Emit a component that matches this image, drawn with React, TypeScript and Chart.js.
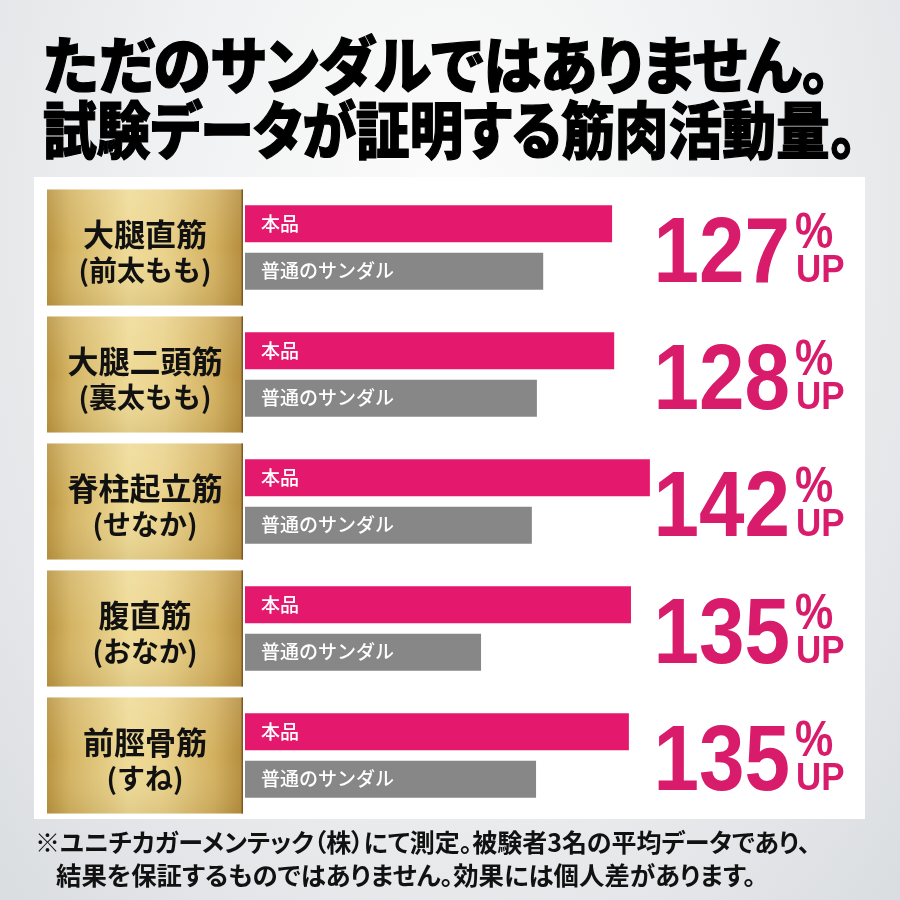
import React, { useEffect, useRef } from "react";
import { Chart, registerables } from "chart.js";

Chart.register(...registerables);

const titleLines = ["ただのサンダルではありません。", "試験データが証明する筋肉活動量。"];
const titleWidths = [787, 814];
const categories = ["大腿直筋", "大腿二頭筋", "脊柱起立筋", "腹直筋", "前脛骨筋"];
const subLabels = ["(前太もも)", "(裏太もも)", "(せなか)", "(おなか)", "(すね)"];
const seriesNames = ["本品", "普通のサンダル"];
const productValues = [87.4, 87.9, 96.4, 91.9, 91.4];
const normalValues = [71.0, 69.5, 68.3, 56.2, 69.3];
const upPercents = ["127", "128", "142", "135", "135"];
const footnoteLines = [
  "※ユニチカガーメンテック（株）にて測定。被験者3名の平均データであり、",
  "結果を保証するものではありません。効果には個人差があります。",
];
const footnoteWidths = [775, 700];

const PINK = "#e4196e";
const GRAY = "#878787";
const TEXT_PINK = "#d81b6b";
const CJK = '"Noto Sans CJK JP", "Noto Sans", sans-serif';
const LAT = '"Liberation Sans", Arial, sans-serif';

const decorPlugin = {
  id: "decor",
  beforeDatasetsDraw(chart: any) {
    const { ctx, chartArea } = chart;
    const y = chart.scales.y;
    const boxRight = chartArea.left - 2;
    const boxLeft = chartArea.left - 198;
    const boxH = 116;
    categories.forEach((cat, i) => {
      const yc = y.getPixelForValue(i);
      const top = yc - boxH / 2;
      ctx.save();
      const g = ctx.createLinearGradient(boxLeft, 0, boxRight, 0);
      g.addColorStop(0, "#b8933f");
      g.addColorStop(0.12, "#d4b463");
      g.addColorStop(0.42, "#efdb97");
      g.addColorStop(0.6, "#ead28b");
      g.addColorStop(0.85, "#d3b160");
      g.addColorStop(1, "#b48c3c");
      ctx.fillStyle = g;
      ctx.fillRect(boxLeft, top, boxRight - boxLeft, boxH);
      const gv = ctx.createLinearGradient(0, top, 0, top + boxH);
      gv.addColorStop(0, "rgba(255,255,255,0.12)");
      gv.addColorStop(0.5, "rgba(255,255,255,0)");
      gv.addColorStop(1, "rgba(120,90,30,0.12)");
      ctx.fillStyle = gv;
      ctx.fillRect(boxLeft, top, boxRight - boxLeft, boxH);
      ctx.fillStyle = "#7a5a22";
      ctx.fillRect(boxRight - 1.5, top, 1.5, boxH);
      const cx = (boxLeft + boxRight) / 2;
      ctx.fillStyle = "#111";
      ctx.textAlign = "center";
      ctx.textBaseline = "middle";
      ctx.font = `bold 31px ${CJK}`;
      ctx.fillText(cat, cx, yc - 13);
      ctx.font = `bold 28px ${CJK}`;
      ctx.fillText(subLabels[i], cx, yc + 23);
      ctx.restore();
    });
  },
  afterDatasetsDraw(chart: any) {
    const { ctx, chartArea } = chart;
    const y = chart.scales.y;
    ctx.save();
    chart.data.datasets.forEach((ds: any, di: number) => {
      const meta = chart.getDatasetMeta(di);
      meta.data.forEach((el: any) => {
        ctx.fillStyle = "#ffffff";
        ctx.font = `500 19px ${CJK}`;
        ctx.textAlign = "left";
        ctx.textBaseline = "middle";
        ctx.fillText(ds.label, el.base + 16, el.y);
      });
    });
    const numRight = chartArea.right + 125;
    upPercents.forEach((p, i) => {
      const yc = y.getPixelForValue(i);
      ctx.fillStyle = TEXT_PINK;
      ctx.textBaseline = "alphabetic";
      ctx.save();
      ctx.translate(numRight, yc + 34.5);
      ctx.scale(0.88, 1);
      ctx.textAlign = "right";
      ctx.font = `bold 93px ${LAT}`;
      ctx.fillText(p, 0, 0);
      ctx.restore();
      ctx.save();
      ctx.translate(numRight + 5, yc + 0.5);
      ctx.scale(0.86, 1);
      ctx.textAlign = "left";
      ctx.font = `bold 50px ${LAT}`;
      ctx.fillText("%", 0, 0);
      ctx.restore();
      ctx.save();
      ctx.translate(numRight + 6, yc + 34.5);
      ctx.scale(0.92, 1);
      ctx.textAlign = "left";
      ctx.font = `bold 38px ${LAT}`;
      ctx.fillText("UP", 0, 0);
      ctx.restore();
    });
    ctx.restore();
  },
};

export default function App() {
  const ref = useRef<HTMLCanvasElement>(null);
  const rootRef = useRef<HTMLDivElement>(null);
  useEffect(() => {
    document.body.style.margin = "0";
    const root = rootRef.current;
    if (root) {
      root.querySelectorAll<HTMLElement>("[data-target]").forEach((el) => {
        const target = Number(el.dataset.target);
        const w = el.scrollWidth;
        if (w > 0) {
          el.style.transform = `scaleX(${target / w})`;
        }
      });
    }
    const chart = new Chart(ref.current as HTMLCanvasElement, {
      type: "bar",
      data: {
        labels: categories,
        datasets: [
          { label: seriesNames[0], data: productValues, backgroundColor: PINK },
          { label: seriesNames[1], data: normalValues, backgroundColor: GRAY },
        ],
      },
      options: {
        indexAxis: "y",
        responsive: false,
        animation: false,
        events: [],
        layout: { padding: { left: 245, right: 235, top: 184, bottom: 81 } },
        datasets: { bar: { categoryPercentage: 0.748, barPercentage: 0.78 } },
        scales: {
          x: { min: 0, max: 100, display: false },
          y: { display: false },
        },
        plugins: { legend: { display: false }, tooltip: { enabled: false }, title: { display: false } },
      },
      plugins: [decorPlugin],
    } as any);
    return () => chart.destroy();
  }, []);

  return (
    <div
      ref={rootRef}
      style={{
        position: "relative",
        width: 900,
        height: 900,
        overflow: "hidden",
        background: "radial-gradient(ellipse at 50% 25%, #fcfcfc 0%, #f0f1f2 45%, #e3e5e8 80%, #dadde0 100%)",
      }}
    >
      {titleLines.map((t, i) => (
        <div
          key={i}
          data-target={titleWidths[i]}
          style={{
            position: "absolute",
            left: 43,
            top: 30 + i * 65,
            fontFamily: CJK,
            fontWeight: 900,
            fontSize: 62,
            lineHeight: "65px",
            whiteSpace: "nowrap",
            color: "#000",
            fontFeatureSettings: '"palt"',
            WebkitTextStroke: "1.2px #000",
            transformOrigin: "0 50%",
          }}
        >
          {t}
        </div>
      ))}
      <div style={{ position: "absolute", left: 34, top: 177, width: 831, height: 642, background: "#fff" }} />
      <canvas ref={ref} width={900} height={900} style={{ position: "absolute", left: 0, top: 0, width: 900, height: 900 }} />
      {footnoteLines.map((t, i) => (
        <div
          key={i}
          data-target={footnoteWidths[i]}
          style={{
            position: "absolute",
            left: i === 0 ? 35 : 56,
            top: 825 + i * 33,
            fontFamily: CJK,
            fontWeight: 700,
            fontSize: 25,
            lineHeight: "33px",
            whiteSpace: "nowrap",
            color: "#111",
            fontFeatureSettings: '"palt"',
            transformOrigin: "0 50%",
          }}
        >
          {t}
        </div>
      ))}
    </div>
  );
}
